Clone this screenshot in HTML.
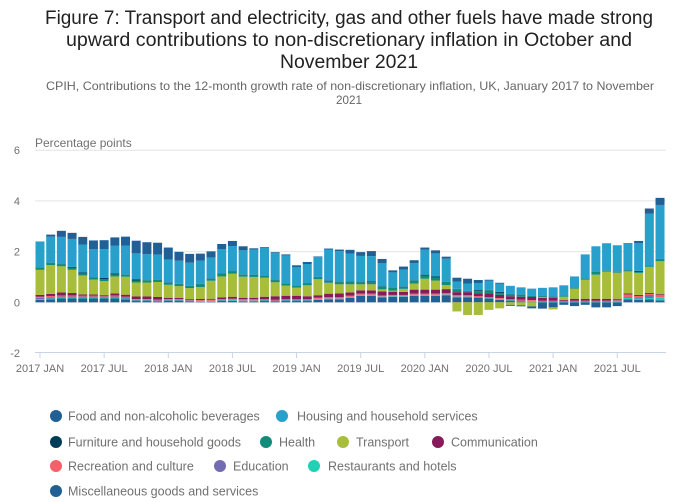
<!DOCTYPE html>
<html><head><meta charset="utf-8"><style>
body{margin:0;background:#fff;width:700px;height:502px;overflow:hidden;font-family:"Liberation Sans",sans-serif}
svg{display:block}
</style></head><body>
<svg id="chart" width="700" height="502" xmlns="http://www.w3.org/2000/svg" font-family="Liberation Sans, sans-serif">
<g fill="#222" font-size="19" text-anchor="middle">
<text x="349" y="24" textLength="608" lengthAdjust="spacingAndGlyphs">Figure 7: Transport and electricity, gas and other fuels have made strong</text>
<text x="349" y="46" textLength="566" lengthAdjust="spacingAndGlyphs">upward contributions to non-discretionary inflation in October and</text>
<text x="349" y="68" textLength="138" lengthAdjust="spacingAndGlyphs">November 2021</text>
</g>
<g fill="#666" font-size="12" text-anchor="middle">
<text x="350" y="90" textLength="608" lengthAdjust="spacingAndGlyphs">CPIH, Contributions to the 12-month growth rate of non-discretionary inflation, UK, January 2017 to November</text>
<text x="349" y="104" textLength="26" lengthAdjust="spacingAndGlyphs">2021</text>
</g>
<text x="35" y="147" font-size="12" fill="#707070">Percentage points</text>
<g id="grid"></g><g id="bars"></g><g id="axes"></g>
<g id="legend" font-size="12.5" fill="#707070"></g>
</svg>
<script>
const months=["2017 JAN","2017 JUL","2018 JAN","2018 JUL","2019 JAN","2019 JUL","2020 JAN","2020 JUL","2021 JAN","2021 JUL"];
const yTicks=[-2,0,2,4,6];
const food=[0.1,0.12,0.15,0.15,0.15,0.15,0.15,0.15,0.12,0.05,0.05,0.03,0.05,0.05,0.03,0.02,0.02,0.05,0.05,0.03,0.03,0.05,0.03,0.05,0.05,0.05,0.1,0.12,0.12,0.18,0.26,0.26,0.2,0.22,0.22,0.26,0.26,0.26,0.28,0.2,0.2,0.17,0.13,0.1,0.05,0.03,0.02,-0.25,-0.2,-0.1,-0.15,-0.1,-0.2,-0.2,-0.15,0.12,0.1,0.12,0.08];
const restaurants=[0.03,0.03,0.03,0.03,0.03,0.03,0.03,0.03,0.03,0.02,0.02,0.02,0.02,0.02,0.02,0.02,0.02,0.02,0.03,0.03,0.03,0.02,0.02,0.02,0.02,0.02,0.02,0.02,0.02,0.02,0.02,0.02,0.02,0.02,0.02,0.02,0.02,0.02,0.02,0.02,0.02,0.02,0.02,0.02,0.02,0.02,0.02,0.01,0.01,0.01,0.01,0.01,0.01,0.01,0.05,0.05,0.05,0.05,0.1];
const education=[0.05,0.05,0.05,0.05,0.05,0.05,0.05,0.05,0.04,0.03,0.03,0.03,0.03,0.03,0.03,0.02,0.02,0.02,0.02,0.02,0.02,0.02,0.02,0.02,0.02,0.02,0.02,0.02,0.02,0.02,0.02,0.02,0.02,0.02,0.02,0.02,0.02,0.02,0.02,0.02,0.02,0.02,0.02,0.02,0.02,0.02,0.02,0.02,0.02,0.02,0.02,0.02,0.02,0.02,0.02,0.02,0.02,0.12,0.02];
const recreation=[0.04,0.05,0.04,0.04,0.03,0.03,0.03,0.04,0.03,0.03,0.03,0.03,0.03,0.03,0.03,0.03,0.04,0.04,0.04,0.04,0.04,0.03,0.03,0.03,0.03,0.03,0.04,0.04,0.04,0.04,0.04,0.04,0.03,0.03,0.03,0.04,0.04,0.04,0.04,0.04,0.04,0.03,0.03,0.03,0.03,0.03,0.03,0.03,0.03,0.03,0.03,0.03,0.03,0.03,0.03,0.12,0.08,0.04,0.08];
const communication=[0.07,0.08,0.12,0.1,0.05,0.05,0.03,0.08,0.08,0.1,0.1,0.1,0.05,0.04,0.02,0.04,0.04,0.06,0.08,0.06,0.06,0.1,0.14,0.14,0.14,0.12,0.1,0.14,0.15,0.13,0.13,0.13,0.16,0.13,0.12,0.16,0.16,0.16,0.16,0.12,0.12,0.12,0.16,0.12,0.12,0.12,0.12,0.12,0.12,0.04,0.08,0.08,0.08,0.08,0.04,0.04,0.04,0.04,0.04];
const transport=[0.99,1.14,1.03,0.91,0.75,0.59,0.55,0.67,0.71,0.55,0.55,0.59,0.51,0.47,0.43,0.47,0.71,0.83,0.91,0.83,0.82,0.75,0.55,0.4,0.32,0.43,0.63,0.43,0.36,0.32,0.24,0.24,0.08,0.04,0.12,0.24,0.43,0.36,0.16,-0.36,-0.5,-0.5,-0.3,-0.24,-0.1,-0.12,-0.16,0.02,-0.08,0.12,0.4,0.75,0.95,1.07,1.03,0.87,0.87,1.03,1.3];
const health=[0.08,0.08,0.08,0.08,0.08,0.08,0.08,0.08,0.08,0.08,0.08,0.08,0.08,0.08,0.08,0.12,0.08,0.12,0.08,0.08,0.08,0.08,0.08,0.08,0.08,0.08,0.08,0.08,0.08,0.1,0.08,0.08,0.12,0.12,0.08,0.12,0.12,0.12,0.12,0.12,0.04,0.08,0.12,0.08,0.08,0.08,0.04,0.04,0.04,0.04,0.04,0.04,0.12,0.04,0.04,0.04,0.04,0.04,0.08];
const furniture=[0.01,0.01,0.01,0.04,0.04,0.01,0.04,0.04,0.01,0.04,0.01,0.01,0.01,0.01,0.01,0.01,0.01,0.01,0.02,0.01,0.01,0.01,0.01,0.01,0.01,0.01,0.01,0.01,0.01,0.01,0.01,0.04,0.01,0.01,0.01,0.01,0.04,0.04,0.01,0.01,0.01,0.04,0.01,0.04,0.01,0.01,0.01,0.01,0.01,0.01,0.01,0.01,0.01,0.01,0.01,0.01,0.04,0.01,0.01];
const housing=[1.03,1.03,1.07,1.1,1.1,1.1,1.14,1.1,1.14,1.03,1.03,0.99,0.91,0.91,0.91,0.91,0.83,0.95,0.99,0.95,0.99,1.1,1.07,1.1,0.71,0.75,0.79,1.22,1.22,1.1,1.03,0.99,0.91,0.59,0.67,0.67,0.99,0.91,0.91,0.28,0.28,0.28,0.36,0.32,0.32,0.28,0.28,0.32,0.36,0.4,0.43,0.95,0.99,1.07,1.03,1.07,1.1,2.05,2.13];
const misc=[0,0.08,0.24,0.24,0.3,0.35,0.35,0.32,0.35,0.5,0.47,0.47,0.47,0.35,0.35,0.28,0.24,0.2,0.2,0.16,0.05,0.02,0.03,0.04,0.08,0.08,0.02,0.04,0.06,0.15,0.15,0.2,0.16,0.08,0.12,0.12,0.08,0.12,0.08,0.16,0.2,0.12,0.04,0.04,-0.04,-0.04,-0.08,0,0,0,0,0,0,0,0,0,0.08,0.2,0.28];

const NS="http://www.w3.org/2000/svg";
const x0=40,step=10.69,bw=9;
const xPos=i=>x0+i*step;
const yPos=v=>302.3-v*25.35;
function mk(t,a,p){const e=document.createElementNS(NS,t);for(const k in a)e.setAttribute(k,a[k]);p.appendChild(e);return e;}
const grid=document.getElementById('grid'),bars=document.getElementById('bars'),axes=document.getElementById('axes'),legend=document.getElementById('legend');
yTicks.forEach(v=>{
  if(v>-2){const l=mk('line',{x1:35,x2:666,y1:yPos(v),y2:yPos(v),stroke:'#e4e4e4','stroke-width':1},grid);
  
  }
  const t=mk('text',{x:20,y:yPos(v)+4,'text-anchor':'end','font-size':11,fill:'#707070'},axes);
  t.textContent=v;
  
  
});
const ax=mk('line',{x1:35,x2:666,y1:352.5,y2:352.5,stroke:'#c8d4e3','stroke-width':1},axes);


months.forEach((m,k)=>{
  const x=xPos(k*6);
  mk('line',{x1:x,x2:x,y1:352.5,y2:358,stroke:'#c8d4e3'},axes);
  const t=mk('text',{x:x,y:372,'text-anchor':'middle','font-size':11,fill:'#707070'},axes);
  t.textContent=m;
  
  
});
const series=[
 ["food",food,"#206095","Food and non-alcoholic beverages"],
 ["restaurants",restaurants,"#22d0b6","Restaurants and hotels"],
 ["education",education,"#746cb1","Education"],
 ["recreation",recreation,"#f66068","Recreation and culture"],
 ["communication",communication,"#871a5b","Communication"],
 ["transport",transport,"#a8bd3a","Transport"],
 ["health",health,"#118c7b","Health"],
 ["furniture",furniture,"#003c57","Furniture and household goods"],
 ["housing",housing,"#27a0cc","Housing and household services"],
 ["misc",misc,"#206095","Miscellaneous goods and services"]];
for(let i=0;i<food.length;i++){
  let pos=0,neg=0;
  series.forEach(s=>{
    const v=s[1][i];if(!v)return;
    let a,b;
    if(v>=0){a=pos;b=pos+v;pos=b;}else{a=neg;b=neg+v;neg=b;}
    const r=mk('rect',{x:xPos(i)-bw/2,width:bw,y:Math.min(yPos(a),yPos(b)),height:Math.abs(yPos(a)-yPos(b)),fill:s[2]},bars);
    
    
  });
}
const leg=[["food",56,68,416],["housing",282,297,416],["furniture",56,68,442],["health",266,279,442],["transport",343,356,442],["communication",438,451,442],["recreation",56,68,466],["education",220,233,466],["restaurants",314,328,466],["misc",56,68,491]];
leg.forEach(l=>{
  const s=series.find(q=>q[0]===l[0]);
  const g=mk('g',{},legend);
  
  
  mk('circle',{cx:l[1],cy:l[3],r:6,fill:s[2]},g);
  const t=mk('text',{x:l[2],y:l[3]+4.5},g);t.textContent=s[3];
});
</script>
</body></html>
